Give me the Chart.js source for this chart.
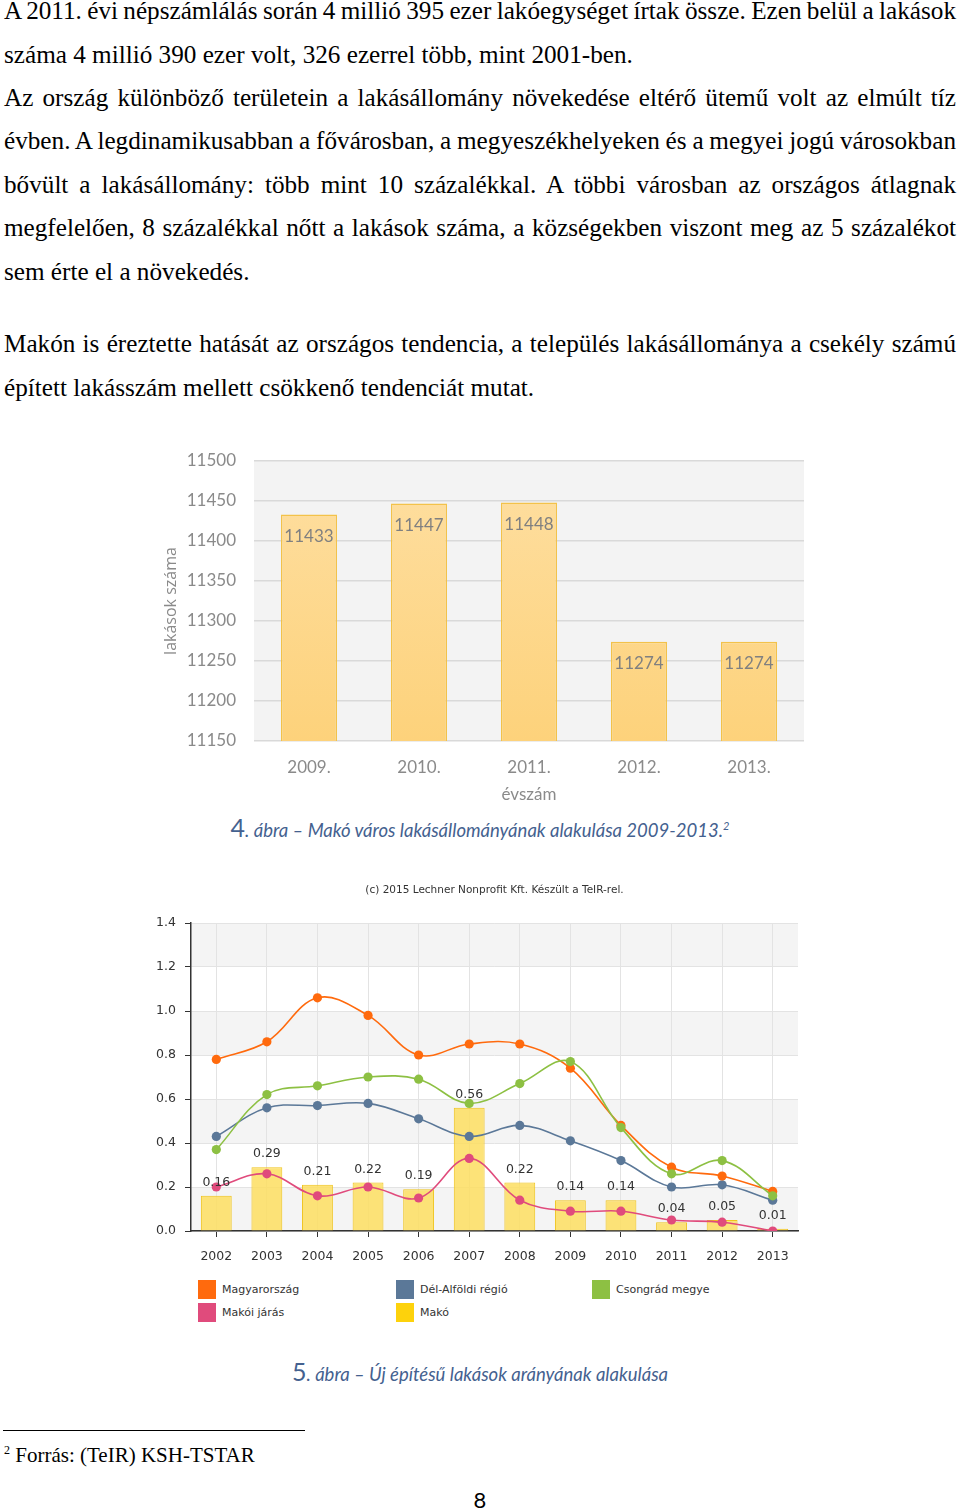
<!DOCTYPE html>
<html lang="hu">
<head>
<meta charset="utf-8">
<title>Makó lakásállomány</title>
<script src="https://cdn.jsdelivr.net/npm/chart.js@4.4.1/dist/chart.umd.min.js"></script>
<style>
  body { margin: 0; background: #fff; }
  #page { position: relative; width: 960px; height: 1509px; overflow: hidden; background: #fff;
          font-family: "Liberation Serif", "Times New Roman", serif; color: #000; }
  .ln { position: absolute; left: 4px; width: 952px; font-size: 25.2px; line-height: 43.4px; white-space: nowrap; }
  .j { white-space: normal; text-align: justify; text-align-last: justify; word-spacing: -3px; }
  .cap { position: absolute; left: 0; width: 960px; text-align: center; color: #44618f;
         font-family: Lato, "Open Sans", sans-serif; font-style: italic; font-size: 18.5px; }
  .cap .num { font-style: normal; font-size: 25px; }
  .cap sup { font-size: 11px; }
  #legend2 { position: absolute; left: 0; top: 0; width: 960px; height: 1px;
             font-family: "DejaVu Sans", Verdana, sans-serif; font-size: 11px; color: #333; }
  .li { position: absolute; height: 19px; line-height: 19px; white-space: nowrap; }
  .li span { display: inline-block; width: 18px; height: 19px; vertical-align: top; margin-right: 6px; }
  #rule { position: absolute; left: 3px; top: 1430px; width: 302px; border-top: 1px solid #000; }
  #foot { position: absolute; left: 4px; top: 1443px; font-size: 21px; }
  #foot sup { font-size: 12px; }
  #pageno { position: absolute; left: 0; width: 960px; top: 1486px; text-align: center;
            font-family: Lato, sans-serif; font-size: 22px; }
</style>
</head>
<body>
<div id="page">
  <div class="ln j" style="top:-10.9px">A 2011. évi népszámlálás során 4 millió 395 ezer lakóegységet írtak össze. Ezen belül a lakások</div>
  <div class="ln" style="top:32.5px">száma 4 millió 390 ezer volt, 326 ezerrel több, mint 2001-ben.</div>
  <div class="ln j" style="top:75.9px">Az ország különböző területein a lakásállomány növekedése eltérő ütemű volt az elmúlt tíz</div>
  <div class="ln j" style="top:119.3px">évben. A legdinamikusabban a fővárosban, a megyeszékhelyeken és a megyei jogú városokban</div>
  <div class="ln j" style="top:162.7px">bővült a lakásállomány: több mint 10 százalékkal. A többi városban az országos átlagnak</div>
  <div class="ln j" style="top:206.1px">megfelelően, 8 százalékkal nőtt a lakások száma, a községekben viszont meg az 5 százalékot</div>
  <div class="ln" style="top:249.5px">sem érte el a növekedés.</div>
  <div class="ln j" style="top:322.1px">Makón is éreztette hatását az országos tendencia, a település lakásállománya a csekély számú</div>
  <div class="ln" style="top:365.5px">épített lakásszám mellett csökkenő tendenciát mutat.</div>

  <canvas id="c1" width="670" height="371" style="position:absolute;left:150px;top:440px"></canvas>
  <div class="cap" style="top:812px"><span class="num">4</span>. ábra – Makó város lakásállományának alakulása 2009-2013.<sup>2</sup></div>

  <canvas id="c2" width="680" height="401" style="position:absolute;left:140px;top:870px"></canvas>
  <div id="legend2"></div>
  <div class="cap" style="top:1356px"><span class="num">5</span>. ábra – Új építésű lakások arányának alakulása</div>

  <div id="rule"></div>
  <div id="foot"><sup>2</sup> Forrás: (TeIR) KSH-TSTAR</div>
  <div id="pageno">8</div>
</div>
<script>
// 4. ábra – lakások száma
const yearsA = ["2009.", "2010.", "2011.", "2012.", "2013."];
const flatsA = [11433, 11447, 11448, 11274, 11274];
const ticksA = [11150, 11200, 11250, 11300, 11350, 11400, 11450, 11500];

// 5. ábra – új építésű lakások aránya (%)
const yearsB = ["2002", "2003", "2004", "2005", "2006", "2007", "2008", "2009", "2010", "2011", "2012", "2013"];
const magyarorszag = [0.78, 0.86, 1.06, 0.98, 0.80, 0.85, 0.85, 0.74, 0.48, 0.29, 0.25, 0.18];
const delAlfold = [0.43, 0.56, 0.57, 0.58, 0.51, 0.43, 0.48, 0.41, 0.32, 0.20, 0.21, 0.14];
const csongrad = [0.37, 0.62, 0.66, 0.70, 0.69, 0.58, 0.67, 0.77, 0.47, 0.26, 0.32, 0.16];
const makoiJaras = [0.20, 0.26, 0.16, 0.20, 0.15, 0.33, 0.14, 0.09, 0.09, 0.05, 0.04, 0.00];
const mako = [0.16, 0.29, 0.21, 0.22, 0.19, 0.56, 0.22, 0.14, 0.14, 0.04, 0.05, 0.01];
const ticksB = [0, 0.2, 0.4, 0.6, 0.8, 1.0, 1.2, 1.4];

const gray = "#8a8a8a";

// fills the plot area before the grid is drawn
const plotBg = {
    id: "plotBg",
    beforeDraw(chart, args, opts) {
        const { ctx, chartArea: a } = chart;
        ctx.save();
        ctx.fillStyle = opts.color;
        ctx.fillRect(a.left, a.top, a.right - a.left, a.bottom - a.top);
        ctx.restore();
    },
};

// value labels inside the top of each bar
const innerLabels = {
    id: "innerLabels",
    afterDatasetsDraw(chart) {
        const { ctx } = chart;
        const meta = chart.getDatasetMeta(0);
        ctx.save();
        ctx.font = "17px Lato";
        ctx.fillStyle = "#808080";
        ctx.textAlign = "center";
        ctx.textBaseline = "middle";
        meta.data.forEach((bar, i) => {
            ctx.fillText(chart.data.datasets[0].data[i], bar.x, bar.y + 22);
        });
        ctx.restore();
    },
};

new Chart(document.getElementById("c1"), {
    type: "bar",
    data: {
        labels: yearsA,
        datasets: [
            {
                label: "lakások száma",
                data: flatsA,
                backgroundColor: (context) => {
                    const area = context.chart.chartArea;
                    if (!area) return "#fdd78a";
                    const g = context.chart.ctx.createLinearGradient(0, area.top, 0, area.bottom);
                    g.addColorStop(0, "#fedfa2");
                    g.addColorStop(1, "#fdd27b");
                    return g;
                },
                borderColor: "#f3c24a",
                borderWidth: 1.5,
                borderSkipped: false,
                categoryPercentage: 1,
                barPercentage: 0.51,
            },
        ],
    },
    options: {
        responsive: false,
        animation: false,
        layout: { padding: { top: 21, right: 16, left: 0, bottom: 0 } },
        plugins: {
            legend: { display: false },
            tooltip: { enabled: false },
            plotBg: { color: "#f3f3f3" },
        },
        scales: {
            x: {
                grid: { display: false },
                border: { display: false },
                ticks: { color: gray, font: { family: "Lato", size: 17 }, padding: 8 },
                title: { display: true, text: "évszám", color: gray, font: { family: "Lato", size: 17 }, padding: { top: 0, bottom: 6 } },
                afterFit: (s) => { s.height = 70; },
            },
            y: {
                min: ticksA[0],
                max: ticksA[ticksA.length - 1],
                ticks: {
                    stepSize: ticksA[1] - ticksA[0],
                    color: gray,
                    font: { family: "Lato", size: 17 },
                    padding: 3,
                    callback: (v) => String(v),
                },
                // invisible tick marks push the labels away from the plot
                grid: { color: "#d9d9d9", lineWidth: 1.5, drawTicks: true, tickLength: 15, tickColor: "rgba(0,0,0,0)" },
                border: { display: false },
                title: { display: true, text: "lakások száma", color: gray, font: { family: "Open Sans", size: 16 }, padding: { top: 12, bottom: 0 } },
                afterFit: (s) => { s.width = 104; },
            },
        },
    },
    plugins: [plotBg, innerLabels],
});

// alternating horizontal bands
const bands = {
    id: "bands",
    beforeDraw(chart) {
        const { ctx, chartArea: a, scales: { y } } = chart;
        ctx.save();
        ctx.fillStyle = "#f4f4f4";
        for (let i = 0; i < ticksB.length - 1; i += 2) {
            const y0 = y.getPixelForValue(ticksB[i]);
            const y1 = y.getPixelForValue(ticksB[i + 1]);
            ctx.fillRect(a.left, y1, a.right - a.left, y0 - y1);
        }
        ctx.restore();
    },
};

// value labels above the Makó bars
const barValues = {
    id: "barValues",
    afterDatasetsDraw(chart) {
        const { ctx } = chart;
        chart.data.datasets.forEach((ds, di) => {
            if (ds.type !== "bar") return;
            const meta = chart.getDatasetMeta(di);
            ctx.save();
            ctx.font = "12.5px 'DejaVu Sans'";
            ctx.fillStyle = "#333";
            ctx.textAlign = "center";
            ctx.textBaseline = "middle";
            meta.data.forEach((bar, i) => {
                ctx.fillText(ds.data[i].toFixed(2), bar.x, bar.y - 13);
            });
            ctx.restore();
        });
    },
};

const series = [
    { name: "Magyarország", data: magyarorszag, color: "#ff6a0d", order: 3 },
    { name: "Dél-Alföldi régió", data: delAlfold, color: "#5b7898", order: 4 },
    { name: "Csongrád megye", data: csongrad, color: "#8dc043", order: 1 },
    { name: "Makói járás", data: makoiJaras, color: "#e04b7c", order: 2 },
];

const lineSets = series.map((s) => ({
    type: "line",
    label: s.name,
    data: s.data,
    borderColor: s.color,
    backgroundColor: s.color,
    borderWidth: 1.6,
    pointRadius: 4.6,
    pointBorderWidth: 0,
    tension: 0.38,
    order: s.order,
}));

new Chart(document.getElementById("c2"), {
    data: {
        labels: yearsB,
        datasets: [
            ...lineSets,
            {
                type: "bar",
                label: "Makó",
                data: mako,
                backgroundColor: "rgba(253, 222, 96, 0.85)",
                borderColor: "#f0c41e",
                borderWidth: 1,
                categoryPercentage: 1,
                barPercentage: 0.61,
                order: 10,
            },
        ],
    },
    options: {
        responsive: false,
        animation: false,
        layout: { padding: { top: 0, right: 22, left: 0, bottom: 0 } },
        plugins: {
            legend: { display: false },
            tooltip: { enabled: false },
            title: {
                display: true,
                fullSize: false,
                text: "(c) 2015 Lechner Nonprofit Kft. Készült a TeIR-rel.",
                color: "#333",
                font: { family: "DejaVu Sans", size: 10.5, weight: "normal" },
                padding: { top: 13.7, bottom: 26.7 },
            },
        },
        scales: {
            x: {
                offset: true,
                grid: { offset: false, color: "#e3e3e3", tickLength: 6, tickColor: "#333" },
                border: { color: "#333", width: 1.5 },
                ticks: { color: "#333", font: { family: "DejaVu Sans", size: 12.5 }, padding: 12, maxRotation: 0 },
                afterFit: (s) => { s.height = 40; },
            },
            y: {
                min: ticksB[0],
                max: ticksB[ticksB.length - 1],
                ticks: {
                    stepSize: ticksB[1] - ticksB[0],
                    color: "#333",
                    font: { family: "DejaVu Sans", size: 12.5 },
                    padding: 9,
                    callback: (v) => v.toFixed(1),
                },
                grid: { color: "#e3e3e3", tickLength: 6, tickColor: "#333" },
                border: { color: "#333", width: 1.5 },
                afterFit: (s) => { s.width = 51; },
            },
        },
    },
    plugins: [bands, barValues],
});

// legend: three columns, two rows
const legendItems = series.map((s) => ({ name: s.name, color: s.color }))
    .concat([{ name: "Makó", color: "#fdd20c" }]);
const legendCols = [198, 396, 592];
const legendRows = [1280, 1303];
const legendBox = document.getElementById("legend2");
legendItems.forEach((it, i) => {
    const el = document.createElement("div");
    el.className = "li";
    el.style.left = legendCols[i % 3] + "px";
    el.style.top = legendRows[Math.floor(i / 3)] + "px";
    const sw = document.createElement("span");
    sw.style.background = it.color;
    el.appendChild(sw);
    el.appendChild(document.createTextNode(it.name));
    legendBox.appendChild(el);
});
</script>
</body>
</html>
